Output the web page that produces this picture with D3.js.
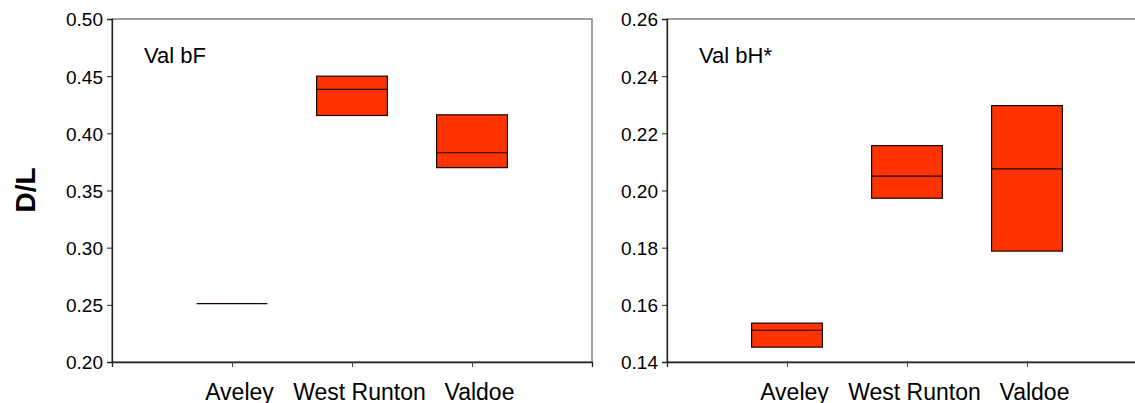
<!DOCTYPE html>
<html>
<head>
<meta charset="utf-8">
<script src="https://cdn.jsdelivr.net/npm/d3@7"></script>
<style>
  body { margin: 0; background: #fff; }
  svg text { font-family: "Liberation Sans", Arial, sans-serif; fill: #000; }
</style>
</head>
<body>
<svg id="chart" width="1135" height="403"></svg>
<script>
// categories and box values
const sites = ["Aveley", "West Runton", "Valdoe"];

const bF_low = [0.251, 0.4156, 0.370];
const bF_med = [0.251, 0.4384, 0.383];
const bF_high = [0.251, 0.450, 0.4162];
const bF_ticks = [0.20, 0.25, 0.30, 0.35, 0.40, 0.45, 0.50];

const bH_low = [0.1452, 0.1973, 0.1788];
const bH_med = [0.1511, 0.2050, 0.2076];
const bH_high = [0.1536, 0.2157, 0.2297];
const bH_ticks = [0.14, 0.16, 0.18, 0.20, 0.22, 0.24, 0.26];

const panels = [
  {label: "Val bF", left: 112, low: bF_low, med: bF_med, high: bF_high, ticks: bF_ticks},
  {label: "Val bH*", left: 667, low: bH_low, med: bH_med, high: bH_high, ticks: bH_ticks}
];

const plotTop = 19, plotBottom = 362, plotW = 480;
const svg = d3.select("#chart");

// y axis title
svg.append("text")
  .attr("transform", "translate(35,190) rotate(-90)")
  .attr("text-anchor", "middle")
  .style("font-size", "28px")
  .style("font-weight", "bold")
  .text("D/L");

panels.forEach(function(p) {
  const g = svg.append("g");
  const ext = d3.extent(p.ticks);
  const y = d3.scaleLinear().domain(ext).range([plotBottom, plotTop]);
  const x = d3.scalePoint().domain(sites).range([p.left, p.left + plotW]).padding(1);

  // frame
  g.append("rect")
    .attr("x", p.left).attr("y", plotTop)
    .attr("width", plotW).attr("height", plotBottom - plotTop)
    .attr("fill", "none").attr("stroke", "#6e6e6e").attr("stroke-width", 1.3);

  const yAxis = g.append("g")
    .attr("transform", "translate(" + p.left + ",0)")
    .call(d3.axisLeft(y).tickValues(p.ticks).tickFormat(d3.format(".2f")).tickSize(5).tickPadding(4));
  yAxis.select(".domain").attr("stroke", "#222").attr("stroke-width", 1.3);
  yAxis.selectAll(".tick line").attr("stroke", "#222");
  yAxis.selectAll("text").style("font-size", "19px").attr("dy", "0.36em");

  const xAxis = g.append("g")
    .attr("transform", "translate(0," + plotBottom + ")")
    .call(d3.axisBottom(x).tickSize(5).tickPadding(17));
  xAxis.select(".domain").attr("stroke", "#222").attr("stroke-width", 1.3);
  xAxis.selectAll(".tick line").attr("stroke", "#444");
  xAxis.selectAll("text").style("font-size", "23px").attr("dx", "7");

  // panel label
  g.append("text")
    .attr("x", p.left + 32).attr("y", 63)
    .style("font-size", "22px")
    .text(p.label);

  const bw = x.step() * 0.59;
  const boxes = g.selectAll("g.box")
    .data(sites.map(function(s, i) { return {site: s, low: p.low[i], med: p.med[i], high: p.high[i]}; }))
    .enter().append("g").attr("class", "box");

  boxes.filter(function(d) { return d.high > d.low; })
    .append("rect")
    .attr("x", function(d) { return x(d.site) - bw / 2; })
    .attr("y", function(d) { return y(d.high); })
    .attr("width", bw)
    .attr("height", function(d) { return y(d.low) - y(d.high); })
    .attr("fill", "#ff3300")
    .attr("stroke", "#1a0500")
    .attr("stroke-width", 1.2);

  boxes.append("line")
    .attr("x1", function(d) { return x(d.site) - bw / 2; })
    .attr("x2", function(d) { return x(d.site) + bw / 2; })
    .attr("y1", function(d) { return y(d.med); })
    .attr("y2", function(d) { return y(d.med); })
    .attr("stroke", "#1a0500")
    .attr("stroke-width", 1.2);
});
</script>
</body>
</html>
